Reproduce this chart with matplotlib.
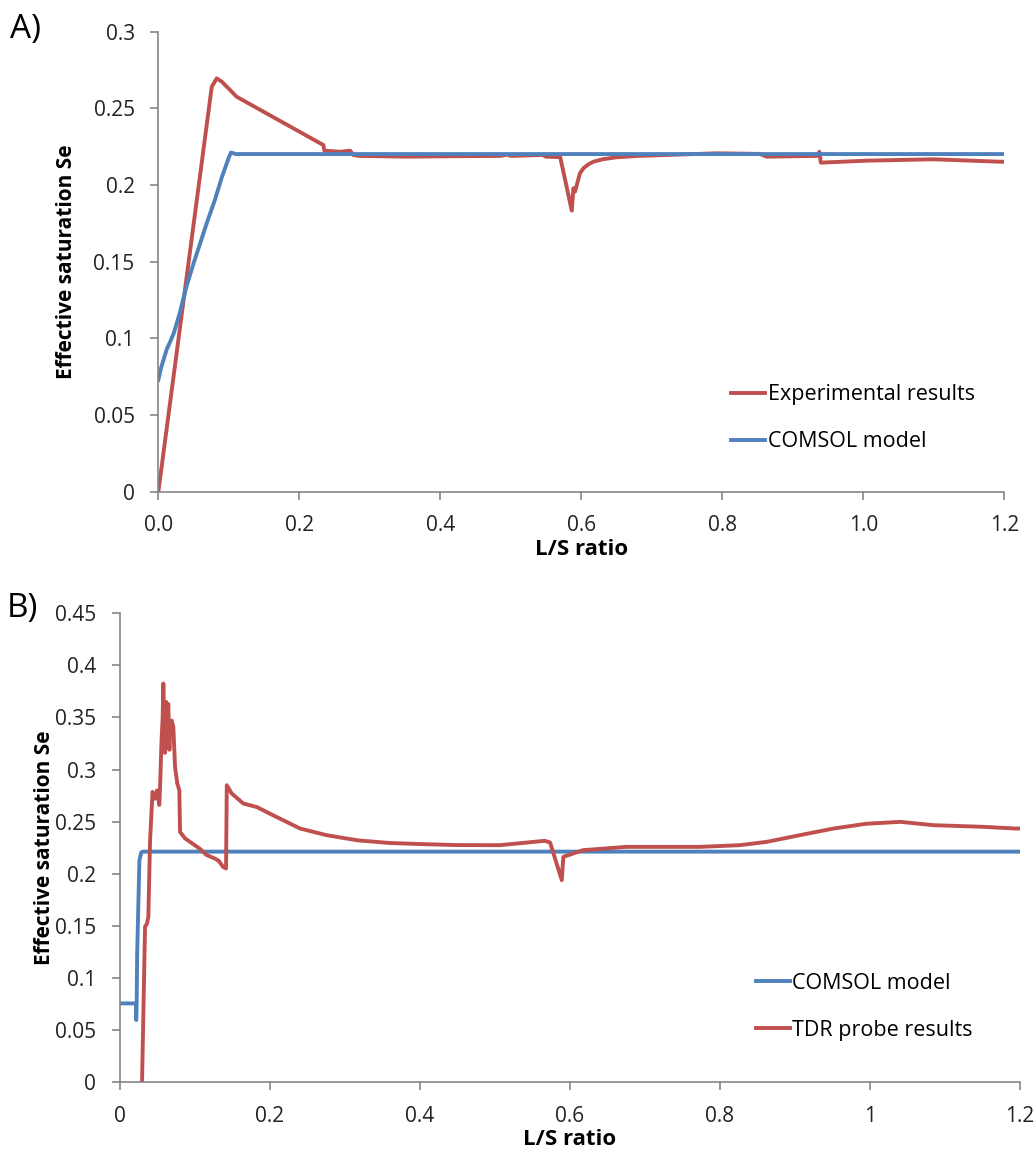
import matplotlib
matplotlib.use('Agg')
import matplotlib.pyplot as plt

plt.rcParams['font.family'] = ['Open Sans', 'DejaVu Sans']

RED = '#C0504D'
BLUE = '#4F81BD'
GREY = '#868686'

# panel A - experimental results vs COMSOL model
exp_x = [0.0, 0.0757, 0.0828, 0.090, 0.1017, 0.111, 0.234, 0.2355, 0.2577, 0.272, 0.2766,
         0.285, 0.35, 0.42, 0.485, 0.495, 0.50, 0.545, 0.55, 0.57, 0.5864, 0.5887, 0.591,
         0.598, 0.603, 0.61, 0.617, 0.63, 0.650, 0.68, 0.721, 0.792, 0.853, 0.863, 0.934,
         0.9376, 0.9396, 1.005, 1.099, 1.194, 1.2]
exp_y = [0.0, 0.264, 0.2696, 0.2674, 0.262, 0.2576, 0.2261, 0.2224, 0.2217, 0.2224, 0.2196,
         0.219, 0.2185, 0.2188, 0.219, 0.2198, 0.219, 0.2196, 0.2185, 0.2182, 0.1833, 0.1979,
         0.1957, 0.2077, 0.211, 0.2135, 0.2152, 0.2168, 0.2181, 0.219, 0.2196, 0.2207, 0.2203,
         0.2185, 0.219, 0.2217, 0.2146, 0.2159, 0.2168, 0.2152, 0.2152]

comsol_a_x = [0.0, 0.004, 0.008, 0.012, 0.016, 0.022, 0.03, 0.04, 0.05, 0.06, 0.07, 0.08,
              0.09, 0.1, 0.103, 0.11, 1.2]
comsol_a_y = [0.073, 0.081, 0.087, 0.093, 0.097, 0.1035, 0.116, 0.134, 0.149, 0.163,
              0.177, 0.19, 0.205, 0.218, 0.2212, 0.2202, 0.2202]

# panel B - COMSOL model vs TDR probe
comsol_b_x = [0.0, 0.022, 0.0222, 0.0228, 0.0235, 0.0265, 0.029, 0.031, 1.2]
comsol_b_y = [0.0755, 0.0755, 0.0595, 0.075, 0.1235, 0.213, 0.2205, 0.2212, 0.2212]

tdr_x = [0.030, 0.034, 0.0365, 0.0384, 0.040, 0.0407, 0.044, 0.047, 0.050, 0.053, 0.0545,
         0.056, 0.0575, 0.0584, 0.0595, 0.0607, 0.062, 0.063, 0.065, 0.0665, 0.0675,
         0.0696, 0.0717, 0.074, 0.077, 0.0797, 0.0807, 0.0873, 0.095, 0.107, 0.116,
         0.127, 0.132, 0.138, 0.142, 0.143, 0.1496, 0.165, 0.183, 0.205, 0.2407, 0.276,
         0.318, 0.36, 0.40, 0.45, 0.507, 0.567, 0.574, 0.5896, 0.5917, 0.618, 0.676,
         0.774, 0.827, 0.863, 0.907, 0.952, 0.996, 1.041, 1.085, 1.152, 1.194, 1.2]
tdr_y = [0.0, 0.149, 0.152, 0.1586, 0.21, 0.232, 0.2786, 0.272, 0.28, 0.266, 0.293,
         0.328, 0.35, 0.3826, 0.34, 0.316, 0.365, 0.33, 0.363, 0.319, 0.345,
         0.347, 0.341, 0.3025, 0.2866, 0.280, 0.240, 0.234, 0.230, 0.224, 0.218,
         0.2146, 0.2125, 0.2066, 0.205, 0.285, 0.277, 0.2674, 0.264, 0.256, 0.2434, 0.237,
         0.232, 0.2295, 0.2285, 0.2275, 0.2274, 0.2316, 0.2300, 0.1938, 0.2162, 0.2226, 0.2258,
         0.2258, 0.2274, 0.2306, 0.237, 0.2434, 0.248, 0.2498, 0.2466, 0.245, 0.2434, 0.2434]

xticks = [0.0, 0.2, 0.4, 0.6, 0.8, 1.0, 1.2]
xlabels_a = ['0.0', '0.2', '0.4', '0.6', '0.8', '1.0', '1.2']
xlabels_b = ['0', '0.2', '0.4', '0.6', '0.8', '1', '1.2']
yticks_a = [0, 0.05, 0.1, 0.15, 0.2, 0.25, 0.3]
ylabels_a = ['0', '0.05', '0.1', '0.15', '0.2', '0.25', '0.3']
yticks_b = [0, 0.05, 0.1, 0.15, 0.2, 0.25, 0.3, 0.35, 0.4, 0.45]
ylabels_b = ['0', '0.05', '0.1', '0.15', '0.2', '0.25', '0.3', '0.35', '0.4', '0.45']


def style(ax):
    for s in ['top', 'right']:
        ax.spines[s].set_visible(False)
    for s in ['left', 'bottom']:
        ax.spines[s].set_color(GREY)
        ax.spines[s].set_linewidth(1.2)
    ax.tick_params(direction='out', length=6, width=1.2, color=GREY,
                   labelsize=15, labelcolor='#222222', pad=11)
    ax.set_xlabel('L/S ratio', fontsize=16, fontweight='bold', labelpad=2)
    ax.set_ylabel('Effective saturation Se', fontsize=15, fontweight='bold')


fig = plt.figure(figsize=(10.35, 11.62), dpi=100)

# A)
ax1 = fig.add_axes([0.153, 0.5769, 0.8174, 0.3958])
ax1.plot(exp_x, exp_y, color=RED, lw=2.8, label='Experimental results')
ax1.plot(comsol_a_x, comsol_a_y, color=BLUE, lw=2.8, label='COMSOL model')
ax1.set_xlim(0, 1.2)
ax1.set_ylim(0, 0.3)
ax1.set_xticks(xticks, xlabels_a)
ax1.set_yticks(yticks_a, ylabels_a)
style(ax1)
ax1.yaxis.labelpad = 12
ax1.legend(loc='upper left', bbox_to_anchor=(0.6875, 0.686), bbox_transform=fig.transFigure,
           frameon=False, fontsize=15.5, handlelength=1.6, handletextpad=0.1,
           labelspacing=1.2)
fig.text(0.010, 0.975, 'A)', fontsize=24, va='center')

# B)
ax2 = fig.add_axes([0.1155, 0.0688, 0.8696, 0.4034])
ax2.plot(comsol_b_x, comsol_b_y, color=BLUE, lw=2.8, label='COMSOL model')
ax2.plot(tdr_x, tdr_y, color=RED, lw=2.8, label='TDR probe results')
ax2.set_xlim(0, 1.2)
ax2.set_ylim(0, 0.45)
ax2.set_xticks(xticks, xlabels_b)
ax2.set_yticks(yticks_b, ylabels_b)
style(ax2)
ax2.yaxis.labelpad = 0
ax2.legend(loc='upper left', bbox_to_anchor=(0.7114, 0.1794), bbox_transform=fig.transFigure,
           frameon=False, fontsize=15.5, handlelength=1.6, handletextpad=0.1,
           labelspacing=1.2)
fig.text(0.007, 0.476, 'B)', fontsize=24, va='center')

fig.savefig('out.png', dpi=100)
